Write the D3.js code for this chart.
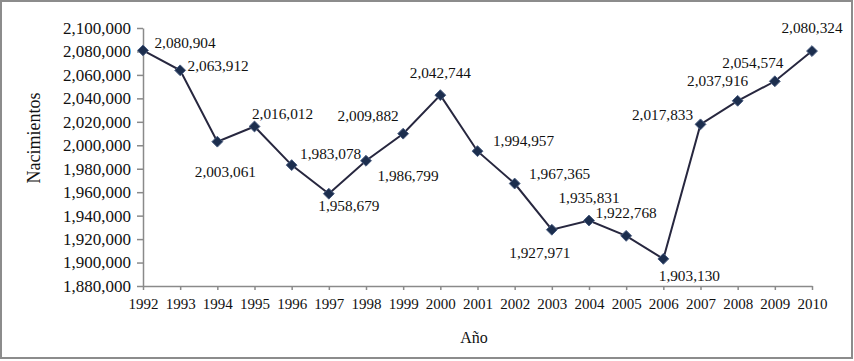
<!doctype html>
<html lang="es">
<head>
<meta charset="UTF-8" />
<title>Nacimientos por año</title>
<style>
  body { margin: 0; background: #fff; font-family: 'Liberation Serif', 'Times New Roman', serif; }
  .axis path, .axis line { stroke: #8a8a8a; stroke-width: 1.5px; }
  .axis text { fill: #111; font-family: 'Liberation Serif', serif; }
  .lbl { font-size: 15.3px; fill: #111; }
</style>
<script src="https://d3js.org/d3.v7.min.js"></script>
</head>
<body>
<div id="chart"></div>
<script>
// data
var years = [1992, 1993, 1994, 1995, 1996, 1997, 1998, 1999, 2000, 2001,
             2002, 2003, 2004, 2005, 2006, 2007, 2008, 2009, 2010];
var births = [2080904, 2063912, 2003061, 2016012, 1983078, 1958679, 1986799, 2009882,
              2042744, 1994957, 1967365, 1927971, 1935831, 1922768, 1903130, 2017833,
              2037916, 2054574, 2080324];
var yTicks = [1880000, 1900000, 1920000, 1940000, 1960000, 1980000, 2000000,
              2020000, 2040000, 2060000, 2080000, 2100000];

// where each value label sits relative to its point (dx, dy of text centre)
var labelOffsets = [[42, -8], [38, -5], [8, 30], [28, -13], [39, -11], [20, 12], [42, 15],
                    [-35, -18], [0, -23], [46, -11], [45, -10], [-12, 23], [0, -23],
                    [0, -23], [26, 17], [-38, -10], [-20, -20], [-22, -19], [0, -23]];

var W = 854, H = 361;
var margin = { top: 28, right: 42, bottom: 75, left: 143 };

var svg = d3.select('#chart').append('svg')
    .attr('width', W)
    .attr('height', H);

// outer frame
svg.append('rect')
    .attr('x', 1).attr('y', 1)
    .attr('width', W - 3).attr('height', H - 4)
    .attr('fill', 'none')
    .attr('stroke', '#8c8c8c')
    .attr('stroke-width', 2);

var width = W - margin.left - margin.right;   // 669
var height = H - margin.top - margin.bottom;  // 258

var x = d3.scalePoint().domain(years).range([0, width]);
var y = d3.scaleLinear().domain([1880000, 2100000]).range([height, 0]);

var g = svg.append('g')
    .attr('transform', 'translate(' + margin.left + ',' + margin.top + ')');

var fmt = d3.format(',');

// y axis
var yAxis = g.append('g')
    .attr('class', 'axis')
    .call(d3.axisLeft(y).tickValues(yTicks).tickFormat(fmt).tickSize(6).tickSizeOuter(0));
yAxis.selectAll('text').attr('font-size', '17px').attr('x', -12);

// x axis
var xAxis = g.append('g')
    .attr('class', 'axis')
    .attr('transform', 'translate(0,' + height + ')')
    .call(d3.axisBottom(x).tickSize(4).tickSizeOuter(0));
xAxis.selectAll('text').attr('font-size', '15px').attr('y', 12);

// axis titles
svg.append('text')
    .attr('transform', 'translate(40,138) rotate(-90)')
    .attr('text-anchor', 'middle')
    .attr('font-size', '18px')
    .attr('fill', '#111')
    .text('Nacimientos');

svg.append('text')
    .attr('x', 474)
    .attr('y', 343)
    .attr('text-anchor', 'middle')
    .attr('font-size', '16px')
    .attr('fill', '#111')
    .text('Año');

var data = years.map(function (d, i) { return { year: d, value: births[i], off: labelOffsets[i] }; });

// line
var line = d3.line()
    .x(function (d) { return x(d.year); })
    .y(function (d) { return y(d.value); });

g.append('path')
    .datum(data)
    .attr('d', line)
    .attr('fill', 'none')
    .attr('stroke', '#27273f')
    .attr('stroke-width', 2);

// diamond markers
g.selectAll('.pt')
    .data(data)
    .enter()
    .append('path')
    .attr('class', 'pt')
    .attr('d', d3.symbol().type(d3.symbolDiamond2).size(75))
    .attr('transform', function (d) { return 'translate(' + x(d.year) + ',' + y(d.value) + ')'; })
    .attr('fill', '#1c2e4e')
    .attr('stroke', '#4a5d80')
    .attr('stroke-width', 1);

// value labels
g.selectAll('.lbl')
    .data(data)
    .enter()
    .append('text')
    .attr('class', 'lbl')
    .attr('x', function (d) { return x(d.year) + d.off[0]; })
    .attr('y', function (d) { return y(d.value) + d.off[1]; })
    .attr('text-anchor', 'middle')
    .attr('dy', '0.35em')
    .text(function (d) { return fmt(d.value); });
</script>
</body>
</html>
